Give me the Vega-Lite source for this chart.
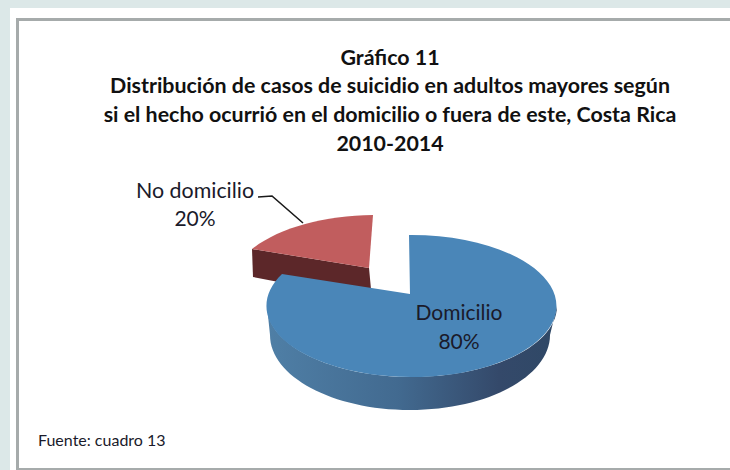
{
  "$schema": "https://vega.github.io/schema/vega-lite/v6.json",
  "width": 720,
  "height": 462,
  "padding": {"left": 10, "top": 8, "right": 0, "bottom": 0},
  "autosize": "none",
  "background": "#dce8e8",
  "view": {"fill": "#ffffff", "stroke": null},
  "config": {"font": "Lato"},
  "title": {
    "text": ["Gráfico 11", "Distribución de casos de suicidio en adultos mayores según", "si el hecho ocurrió en el domicilio o fuera de este, Costa Rica", "2010-2014"],
    "anchor": "middle",
    "font": "Lato",
    "fontSize": 21.4,
    "fontWeight": "bold",
    "color": "#111111",
    "lineHeight": 28.7,
    "baseline": "top",
    "offset": 0,
    "dx": 20,
    "dy": 147
  },
  "data": {"values": [
    {"categoria": "No domicilio", "porcentaje": 0.2},
    {"categoria": "Domicilio", "porcentaje": 0.8}
  ]},
  "layer": [
    {
      "data": {"values": [{"marco": "borde"}]},
      "mark": {"type": "point", "shape": "M362,-219.5 L-352.5,-219.5 L-352.5,230.5 L362,230.5", "size": 4, "filled": false, "fill": null, "stroke": "#a6abab", "strokeWidth": 3, "opacity": 1},
      "encoding": {}
    },
    {
      "transform": [{"filter": "datum.categoria === 'No domicilio'"}],
      "mark": {"type": "point", "shape": "M-118,10 L-117,38 L2,61 L-1,29 Z", "size": 4, "filled": true, "fill": "#5c2729", "opacity": 1},
      "encoding": {}
    },
    {
      "transform": [{"filter": "datum.categoria === 'Domicilio'"}],
      "mark": {
        "type": "point",
        "shape": "M-103,67 L-100,96 A140,75 0 0 0 180,96 L187,67 A145,71 0 0 1 -103,67 Z",
        "size": 4,
        "filled": true,
        "opacity": 1,
        "fill": {
          "gradient": "linear", "x1": 0, "y1": 0, "x2": 1, "y2": 0,
          "stops": [
            {"offset": 0, "color": "#4f7fa6"},
            {"offset": 0.45, "color": "#426a90"},
            {"offset": 0.8, "color": "#34496a"},
            {"offset": 1, "color": "#2f4866"}
          ]
        }
      },
      "encoding": {}
    },
    {
      "mark": {"type": "point", "size": 4, "filled": true, "opacity": 1},
      "encoding": {
        "shape": {
          "field": "categoria", "type": "nominal", "legend": null,
          "scale": {
            "domain": ["Domicilio", "No domicilio"],
            "range": ["M40,55 L39,-4 A145,71 0 1 1 -88,35 Z", "M3,-24 L-1,29 L-118,10 A145,71 0 0 1 3,-24 Z"]
          }
        },
        "color": {
          "field": "categoria", "type": "nominal", "legend": null,
          "scale": {"domain": ["Domicilio", "No domicilio"], "range": ["#4a86b8", "#c15d5e"]}
        }
      }
    },
    {
      "transform": [{"filter": "datum.categoria === 'No domicilio'"}],
      "mark": {"type": "point", "shape": "M-112,-42 L-98,-43 L-67,-16", "size": 4, "filled": false, "fill": null, "stroke": "#1a1a1a", "strokeWidth": 1.6, "opacity": 1},
      "encoding": {}
    },
    {
      "transform": [{"filter": "datum.categoria === 'Domicilio'"}],
      "mark": {"type": "text", "font": "Lato", "fontSize": 21, "color": "#1a1a2a", "dx": 89, "dy": 75},
      "encoding": {"text": {"field": "categoria"}}
    },
    {
      "transform": [{"filter": "datum.categoria === 'Domicilio'"}],
      "mark": {"type": "text", "font": "Lato", "fontSize": 21, "color": "#1a1a2a", "dx": 89, "dy": 104},
      "encoding": {"text": {"field": "porcentaje", "format": ".0%"}}
    },
    {
      "transform": [{"filter": "datum.categoria === 'No domicilio'"}],
      "mark": {"type": "text", "font": "Lato", "fontSize": 21.4, "color": "#1a1a2a", "dx": -175, "dy": -47},
      "encoding": {"text": {"field": "categoria"}}
    },
    {
      "transform": [{"filter": "datum.categoria === 'No domicilio'"}],
      "mark": {"type": "text", "font": "Lato", "fontSize": 21, "color": "#1a1a2a", "dx": -175, "dy": -19},
      "encoding": {"text": {"field": "porcentaje", "format": ".0%"}}
    },
    {
      "data": {"values": [{"fuente": "Fuente: cuadro 13"}]},
      "mark": {"type": "text", "font": "Lato", "fontSize": 16, "color": "#1a1a2a", "align": "left", "dx": -332, "dy": 202},
      "encoding": {"text": {"field": "fuente"}}
    }
  ]
}
